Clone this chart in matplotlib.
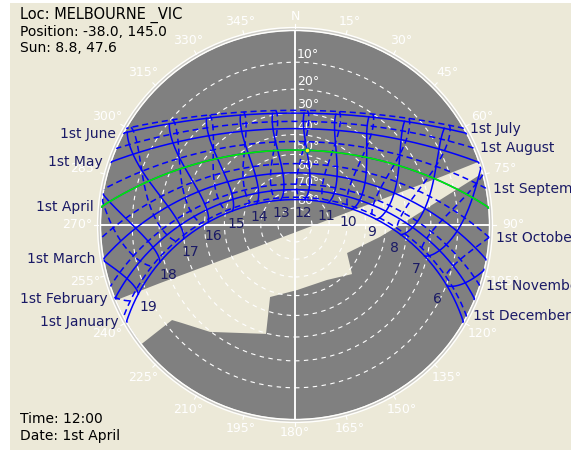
import numpy as np
import matplotlib.pyplot as plt
from matplotlib.patches import Circle, Polygon

# site and moment shown
lat, lon, tz = -38.0, 145.0, 10.0
today = 91          # 1st April
now_hour = 12.0

# 1st of each month (day of year) and their names
month_days = [1, 32, 60, 91, 121, 152, 182, 213, 244, 274, 305, 335]
month_names = ['January', 'February', 'March', 'April', 'May', 'June',
               'July', 'August', 'September', 'October', 'November', 'December']
hours = [6, 7, 8, 9, 10, 11, 12, 13, 14, 15, 16, 17, 18, 19]
alt_rings = [10, 20, 30, 40, 50, 60, 70, 80]
az_ticks = list(range(0, 360, 15))

# light (unshaded) band, azimuth / altitude
band_az = [247.2, 246.7, 243.8, 85.4, 73.6, 71.7, 71.0, 74.6, 86.1, 98.0, 118.3,
           130.7, 149.8, 178.2, 199.1, 194.9, 218.5, 229.1, 232.3, 232.2]
band_alt = [0, 15.8, 49.0, 75.3, 40.9, 12.4, 0, 0, 27.3, 42.3, 56.1,
            47.6, 53.7, 52.9, 47.1, 29.7, 19.7, 14.7, 12.6, 0]

BG = '#ECE9D8'
GREY = '#808080'
NAVY = '#1a1a66'
BLUE = '#0000ff'


def sunpos(doy, hr):
    g = 2 * np.pi / 365 * (doy - 1 + (hr - 12) / 24)
    eot = 229.18 * (0.000075 + 0.001868 * np.cos(g) - 0.032077 * np.sin(g)
                    - 0.014615 * np.cos(2 * g) - 0.040849 * np.sin(2 * g))
    dec = (0.006918 - 0.399912 * np.cos(g) + 0.070257 * np.sin(g)
           - 0.006758 * np.cos(2 * g) + 0.000907 * np.sin(2 * g)
           - 0.002697 * np.cos(3 * g) + 0.00148 * np.sin(3 * g))
    tst = hr * 60 + eot + 4 * lon - 60 * tz
    ha = np.radians(tst / 4 - 180)
    phi = np.radians(lat)
    alt = np.degrees(np.arcsin(np.sin(phi) * np.sin(dec) + np.cos(phi) * np.cos(dec) * np.cos(ha)))
    az = np.degrees(np.arctan2(-np.sin(ha), np.tan(dec) * np.cos(phi) - np.sin(phi) * np.cos(ha))) % 360
    return az, alt


def proj(az, alt):
    # stereographic, horizon = unit circle
    r = np.tan(np.radians(90 - np.asarray(alt, dtype=float)) / 2)
    a = np.radians(np.asarray(az, dtype=float))
    return r * np.sin(a), r * np.cos(a)


def clip(az, alt):
    x, y = proj(az, np.maximum(alt, 0))
    bad = alt < -0.3
    x[bad] = np.nan
    y[bad] = np.nan
    return x, y


# layout: circle centre at (295,225) px, radius 194 px
W, H = 571, 450
cx, cy, R = 295, 225, 194
fig = plt.figure(figsize=(W / 100, H / 100), dpi=100, facecolor='white')
ax = fig.add_axes([10 / W, 0, (W - 10) / W, (H - 3) / H])
ax.set_facecolor(BG)
ax.set_xlim((10 - cx) / R, (W - cx) / R)
ax.set_ylim((cy - H) / R, (cy - 3) / R)
ax.set_xticks([])
ax.set_yticks([])
for s in ax.spines.values():
    s.set_visible(False)

# dome and light band
ax.add_patch(Circle((0, 0), 1, fc=GREY, ec='none', zorder=1))
bx, by = proj(band_az, band_alt)
arc = np.linspace(band_az[-1], band_az[0], 20)
hx, hy = proj(arc, np.zeros_like(arc))
ax.add_patch(Polygon(np.column_stack([np.r_[bx, hx], np.r_[by, hy]]),
                     closed=True, fc=BG, ec='none', zorder=2))

# outer rim
ax.add_patch(Circle((0, 0), 1 + 0.5 / R, fc='none', ec='white', lw=1.0, zorder=3))
ax.add_patch(Circle((0, 0), 1 + 2 / R, fc='none', ec='#c8c8c8', lw=0.8, zorder=3))
ax.add_patch(Circle((0, 0), 1 + 3.5 / R, fc='none', ec='white', lw=0.9, zorder=3))

# grid: altitude rings, cross, azimuth ticks
for a in alt_rings:
    r = np.tan(np.radians(90 - a) / 2)
    ax.add_patch(Circle((0, 0), r, fc='none', ec='white', lw=0.8,
                        ls=(0, (4, 4)), zorder=3))
    ax.text(2 / R, r + 8 / R, '%d°' % a, color='white', fontsize=9,
            ha='left', va='center', zorder=3)
for az in az_ticks:
    a = np.radians(az)
    if az % 90 == 0:
        ax.plot([-np.sin(a), np.sin(a)], [-np.cos(a), np.cos(a)], color='white', lw=1.1, zorder=3)
    r0, r1 = 1 + 3 / R, 1 + 7 / R
    ax.plot([r0 * np.sin(a), r1 * np.sin(a)], [r0 * np.cos(a), r1 * np.cos(a)],
            color='white', lw=0.8, zorder=3)
    lab = 'N' if az == 0 else '%d°' % az
    rr = (208 + 10 * abs(np.sin(a))) / R
    ax.text(rr * np.sin(a), rr * np.cos(a), lab, color='white', fontsize=9,
            ha='center', va='center', zorder=3)

# month paths
t = np.arange(3.0, 21.0, 1 / 120)
for i, d in enumerate(month_days):
    az, alt = sunpos(d, t)
    x, y = clip(az, alt)
    ls = '-' if i < 6 else (0, (4, 2.5))
    ax.plot(x, y, color=BLUE, lw=1.1, ls=ls, zorder=4)
    up = np.where(alt >= -0.3)[0]
    if i < 6:
        k = up[-1]
        ax.annotate('1st ' + month_names[i], (x[k], y[k]), xytext=(-6, 0),
                    textcoords='offset points', ha='right', va='center',
                    color=NAVY, fontsize=10, zorder=6, annotation_clip=False)
    else:
        k = up[0]
        ax.annotate('1st ' + month_names[i], (x[k], y[k]), xytext=(5, 0),
                    textcoords='offset points', ha='left', va='center',
                    color=NAVY, fontsize=10, zorder=6, annotation_clip=False)

# hour lines (Jan-Jun solid, Jul-Dec dashed)
halves = [(np.arange(1, 152.01, 0.2), '-'), (np.arange(182, 335.01, 0.2), (0, (4, 2.5)))]
for h in hours:
    for days, ls in halves:
        az, alt = sunpos(days, h)
        x, y = clip(az, alt)
        ax.plot(x, y, color=BLUE, lw=1.1, ls=ls, zorder=4)
    az, alt = sunpos(1, h)
    x, y = proj(az, alt)
    ax.annotate(str(h), (x, y), xytext=(-0.045 * x * R, -9.5),
                textcoords='offset points', ha='center', va='center',
                color=NAVY, fontsize=10, zorder=6)

# today's path and current sun
az, alt = sunpos(today, t)
x, y = clip(az, alt)
ax.plot(x, y, color='#00ee00', lw=1.2, zorder=5)
saz, salt = sunpos(today, now_hour)
sx, sy = proj(saz, salt)
ax.plot(sx, sy, 'o', ms=3.5, mfc='yellow', mec='#008080', mew=0.8, zorder=6)

# info text
fig.text(20 / W, 1 - 15 / H, 'Loc: MELBOURNE _VIC', fontsize=10.5, va='center', color='black')
fig.text(20 / W, 1 - 32 / H, 'Position: -38.0, 145.0', fontsize=10, va='center', color='black')
fig.text(20 / W, 1 - 48 / H, 'Sun: 8.8, 47.6', fontsize=10, va='center', color='black')
fig.text(20 / W, 1 - 419 / H, 'Time: 12:00', fontsize=10, va='center', color='black')
fig.text(20 / W, 1 - 436 / H, 'Date: 1st April', fontsize=10, va='center', color='black')

fig.savefig('out.png', dpi=100, facecolor='white')
